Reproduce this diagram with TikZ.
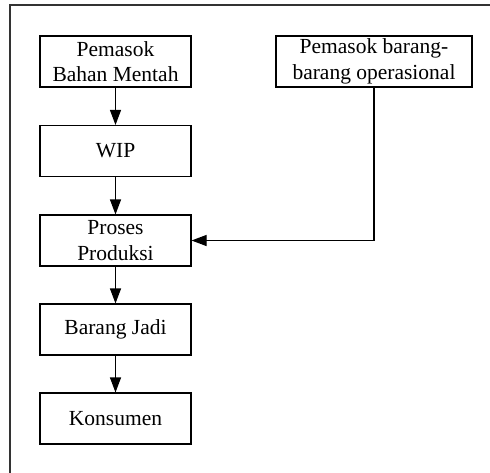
\documentclass[tikz,border=0pt]{standalone}
\usepackage{fontspec}
\setmainfont{Liberation Serif}
\usetikzlibrary{arrows.meta}
\begin{document}
\begin{tikzpicture}[x=1pt,y=-1pt,
  flowbox/.style={draw, line width=1.1pt, rectangle, align=center, inner sep=0pt,
    minimum width=151pt, minimum height=51pt,
    font=\fontsize{21.5}{25.5}\selectfont},
  flowarrow/.style={line width=1.1pt, -{Triangle[length=15pt,width=11pt]}}
]
\useasboundingbox (0,0) rectangle (490,472);
% outer frame (only top and left edges fall inside the page)
\draw[line width=1.2pt, black!80] (10,480) -- (10,5) -- (500,5);

\node[flowbox] (bahan)   at (115.5,61.5)  {Pemasok\\Bahan Mentah};
\node[flowbox] (wip)     at (115.5,151)   {WIP};
\node[flowbox] (proses)  at (115.5,240.5) {Proses\\Produksi};
\node[flowbox] (jadi)    at (115.5,329.5) {Barang Jadi};
\node[flowbox] (konsumen) at (115.5,418.5) {Konsumen};
\node[flowbox, minimum width=196pt] (ops) at (374,61.5) {Pemasok barang-\\barang operasional};

\draw[flowarrow] (bahan) -- (wip);
\draw[flowarrow] (wip) -- (proses);
\draw[flowarrow] (proses) -- (jadi);
\draw[flowarrow] (jadi) -- (konsumen);
\draw[flowarrow] (ops.south) |- (proses.east);
\end{tikzpicture}
\end{document}
